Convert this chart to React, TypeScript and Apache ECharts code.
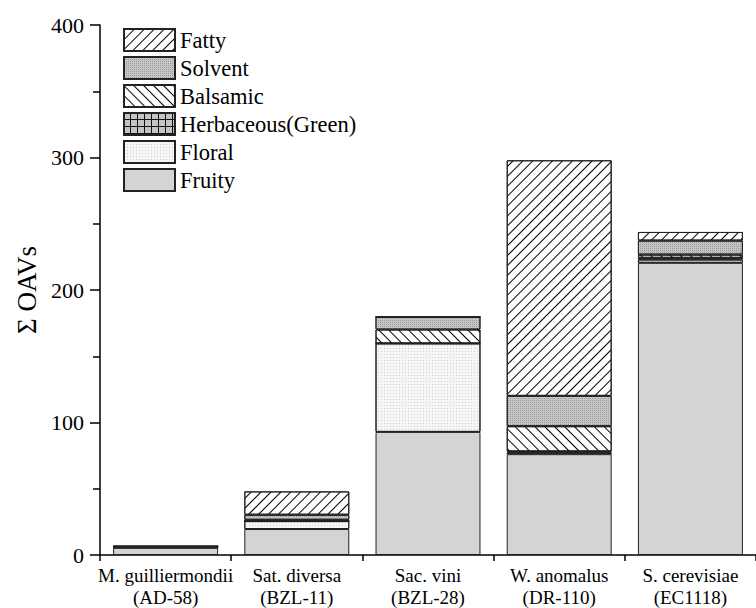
import React, { useEffect, useRef } from "react";
import * as echarts from "echarts";

const categories = [
  "M. guilliermondii\n(AD-58)",
  "Sat. diversa\n(BZL-11)",
  "Sac. vini\n(BZL-28)",
  "W. anomalus\n(DR-110)",
  "S. cerevisiae\n(EC1118)",
];
const fruity = [5.5, 19.6, 92.9, 76.1, 220.5];
const floral = [0, 6.0, 66.8, 1.3, 2.5];
const herbaceous = [1.0, 0, 0, 0.8, 1.3];
const balsamic = [0, 1.0, 10.5, 19.0, 2.4];
const solvent = [0, 3.8, 9.6, 22.9, 10.6];
const fatty = [0, 17.6, 0, 177.8, 6.5];
const yTicks = [0, 100, 200, 300, 400];

const FONT = "Times New Roman, Liberation Serif, serif";

export default function App() {
  const ref = useRef<HTMLDivElement>(null);
  useEffect(() => {
    if (!ref.current) return;
    const chart = echarts.init(ref.current, null, { renderer: "svg" });
    const border = { borderColor: "#222", borderWidth: 1 };
    const mk = (name: string, data: number[], color: string, decal?: any) => ({
      name,
      type: "bar",
      stack: "total",
      barCategoryGap: "20%",
      data,
      itemStyle: { color, ...border, decal },
      emphasis: { disabled: true },
    });
    chart.setOption({
      animation: false,
      backgroundColor: "#fff",
      textStyle: { fontFamily: FONT },
      grid: { left: 100, right: -8, top: 25, bottom: 52 },
      legend: {
        orient: "vertical",
        left: 118,
        top: 23,
        itemWidth: 51,
        itemHeight: 22,
        itemGap: 4,
        icon: "rect",
        textStyle: { fontSize: 22.5, lineHeight: 22, fontFamily: FONT, color: "#000" },
        data: ["Fatty", "Solvent", "Balsamic", "Herbaceous(Green)", "Floral", "Fruity"],
      },
      xAxis: {
        type: "category",
        data: categories,
        axisLine: { lineStyle: { color: "#000", width: 1.5 } },
        axisTick: { show: true, length: 6, lineStyle: { color: "#000", width: 1.5 } },
        axisLabel: {
          interval: 0,
          fontSize: 19,
          fontFamily: FONT,
          color: "#000",
          lineHeight: 22,
          margin: 9,
        },
      },
      yAxis: {
        type: "value",
        min: yTicks[0],
        max: yTicks[yTicks.length - 1],
        interval: 100,
        name: "Σ OAVs",
        nameLocation: "middle",
        nameGap: 44,
        nameTextStyle: { fontSize: 27, fontFamily: FONT, color: "#000" },
        axisLine: { show: true, lineStyle: { color: "#000", width: 1.5 } },
        axisTick: { show: true, length: 10, lineStyle: { color: "#000", width: 1.5 } },
        minorTick: { show: true, splitNumber: 2, length: 7, lineStyle: { color: "#000", width: 1.5 } },
        splitLine: { show: false },
        axisLabel: { fontSize: 22, fontFamily: FONT, color: "#000", margin: 16 },
      },
      series: [
        mk("Fruity", fruity, "#d4d4d4"),
        mk("Floral", floral, "#f6f6f6", {
          symbol: "rect",
          symbolSize: 1,
          dashArrayX: [1, 2],
          dashArrayY: [1, 2],
          color: "#d0d0d0",
        }),
        mk("Herbaceous(Green)", herbaceous, "#111", {
          symbol: "rect",
          symbolSize: 1,
          dashArrayX: [6, 1],
          dashArrayY: [6, 1],
          color: "#c4c4c4",
        }),
        mk("Balsamic", balsamic, "#fff", {
          symbol: "rect",
          symbolSize: 1,
          dashArrayX: [1, 0],
          dashArrayY: [1, 6],
          rotation: Math.PI / 4,
          color: "#000",
        }),
        mk("Solvent", solvent, "#c6c6c6", {
          symbol: "rect",
          symbolSize: 1,
          dashArrayX: [1, 1],
          dashArrayY: [1, 1],
          color: "#9a9a9a",
        }),
        mk("Fatty", fatty, "#fff", {
          symbol: "rect",
          symbolSize: 1,
          dashArrayX: [1, 0],
          dashArrayY: [1, 6],
          rotation: -Math.PI / 4,
          color: "#000",
        }),
      ],
    });
    return () => chart.dispose();
  }, []);
  return (
    <div
      ref={ref}
      style={{ position: "absolute", left: 0, top: 0, width: 756, height: 608 }}
    />
  );
}
